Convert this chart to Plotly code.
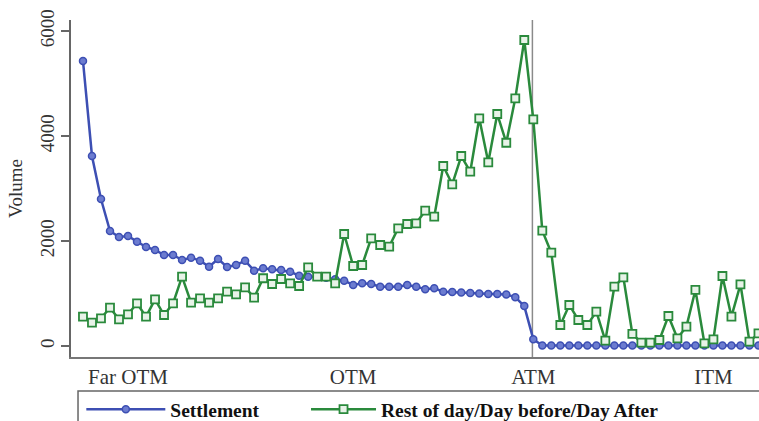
import plotly.graph_objects as go

# Strike position index (0 = far OTM ... 75 = deep ITM)
strike_idx = list(range(76))

settlement = [5430, 3620, 2800, 2190, 2076, 2095, 1987, 1886, 1829, 1733,
              1733, 1638, 1682, 1625, 1510, 1657, 1505, 1543, 1625, 1434,
              1480, 1461, 1448, 1415, 1339, 1320, 1320, 1300, 1270, 1244,
              1162, 1194, 1181, 1130, 1130, 1130, 1162, 1130, 1080, 1099,
              1034, 1030, 1020, 1010, 1000, 990, 990, 980, 930, 760,
              130, 10, 10, 10, 10, 10, 10, 10, 10, 10,
              10, 10, 10, 10, 10, 10, 10, 10, 10, 10,
              10, 10, 10, 10, 10, 10]

rest_of_day = [558, 444, 527, 730, 508, 603, 813, 558, 889, 590,
               813, 1320, 825, 908, 825, 908, 1035, 984, 1118, 920,
               1290, 1181, 1276, 1194, 1143, 1499, 1320, 1320, 1194, 2133,
               1524, 1543, 2051, 1924, 1892, 2242, 2324, 2337, 2577, 2463,
               3429, 3080, 3619, 3320, 4337, 3499, 4419, 3872, 4718, 5829,
               4318, 2197, 1777, 400, 781, 495, 400, 654, 101, 1130,
               1308, 229, 63, 63, 114, 571, 146, 368, 1067, 51,
               127, 1333, 558, 1175, 82, 241]

cat_ticks = [5, 30, 50, 70]
cat_labels = ["Far OTM", "OTM", "ATM", "ITM"]
y_ticks = [0, 2000, 4000, 6000]
atm_x = 49.9

BLUE = "#3d4fb3"
GREEN = "#2a8a3c"
FONT = "Liberation Serif"

fig = go.Figure()
fig.add_trace(go.Scatter(
    x=strike_idx, y=settlement, name="Settlement", mode="lines+markers",
    line=dict(color=BLUE, width=2.5),
    marker=dict(symbol="circle", size=7, color="#6c7cd0",
                line=dict(color=BLUE, width=1.5)),
    legend="legend",
))
fig.add_trace(go.Scatter(
    x=strike_idx, y=rest_of_day, name="Rest of day/Day before/Day After",
    mode="lines+markers",
    line=dict(color=GREEN, width=2.5),
    marker=dict(symbol="square", size=8, color="#e8f3e8",
                line=dict(color=GREEN, width=1.8)),
    legend="legend2",
))

fig.add_shape(type="line", xref="x", yref="paper", x0=atm_x, x1=atm_x,
              y0=0, y1=1, line=dict(color="#8a8a8a", width=1.5), layer="below")

# legend frame
fig.add_shape(type="rect", xref="paper", yref="paper", x0=0.0102, x1=1.2,
              y0=-0.40, y1=-0.101, line=dict(color="#666666", width=1.5))

legend_font = dict(family=FONT, size=19.5, color="#111111", weight="bold")

fig.update_layout(
    width=759, height=421,
    margin=dict(l=71, r=0, t=20, b=64, autoexpand=False),
    plot_bgcolor="white", paper_bgcolor="white",
    font=dict(family=FONT, color="#222222", size=19),
    showlegend=True,
    legend=dict(orientation="h", x=0.015, y=-0.098, xanchor="left",
                yanchor="top", font=legend_font,
                bgcolor="rgba(0,0,0,0)", itemwidth=79),
    legend2=dict(orientation="h", x=0.3416, y=-0.098, xanchor="left",
                 yanchor="top", font=legend_font,
                 bgcolor="rgba(0,0,0,0)", itemwidth=65),
    xaxis=dict(range=[-1.33, 75.06], tickmode="array", tickvals=cat_ticks,
               ticktext=cat_labels, showgrid=False, zeroline=False,
               showline=True, linecolor="#777777", linewidth=1.5,
               ticks="", tickfont=dict(size=21, color="#333333"),
               automargin=False),
    yaxis=dict(range=[-210, 6210], tickmode="array", tickvals=y_ticks,
               showgrid=False, zeroline=False, showline=True,
               linecolor="#666666", linewidth=1.5, ticks="outside",
               ticklen=8, tickcolor="#666666", tickwidth=1.5, tickangle=-90,
               tickfont=dict(size=19, color="#333333"), automargin=False,
               title=dict(text="Volume", standoff=9,
                          font=dict(size=19, color="#333333"))),
)

fig.write_html("out.html", config={"displayModeBar": False},
               post_script="document.body.style.margin='0';"
                           "document.body.style.overflow='hidden';")
